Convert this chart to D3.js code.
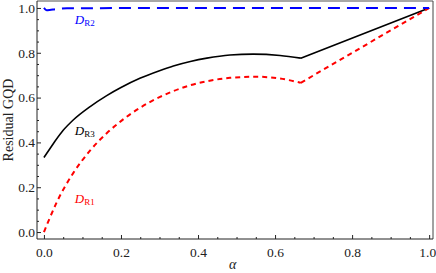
<!DOCTYPE html>
<html>
<head>
<meta charset="utf-8">
<script src="https://cdn.jsdelivr.net/npm/d3@7"></script>
<style>
  body { margin: 0; background: #fff; }
  svg text { font-family: "Liberation Serif", "DejaVu Serif", serif !important; }
</style>
</head>
<body>
<div id="chart"></div>
<script>
// D_R3 (black solid)
let alphaR3 = [0, 0.0286, 0.05, 0.076, 0.12, 0.163, 0.2, 0.249, 0.3, 0.336, 0.38, 0.423, 0.483, 0.543, 0.613, 0.6667, 1];
let valuesR3 = [0.333, 0.405, 0.454, 0.5, 0.56, 0.609, 0.645, 0.686, 0.72, 0.741, 0.761, 0.776, 0.79, 0.794, 0.788, 0.776, 1.0];

// D_R1 (red dashed)
let alphaR1 = [0, 0.012, 0.033, 0.076, 0.119, 0.163, 0.2, 0.249, 0.3, 0.336, 0.38, 0.423, 0.483, 0.552, 0.613, 0.6667, 1];
let valuesR1 = [0, 0.05, 0.132, 0.263, 0.362, 0.441, 0.495, 0.554, 0.602, 0.629, 0.655, 0.673, 0.688, 0.693, 0.685, 0.666, 1.0];

// D_R2 (blue dashed)
let alphaR2 = [0, 0.007, 0.015, 0.03, 0.06, 1];
let valuesR2 = [1.0, 0.99, 0.991, 0.995, 0.999, 1.0];

// corners where the curves are not smooth
let kinks = [0.0286, 0.6667];

let xTicks = [0, 0.2, 0.4, 0.6, 0.8, 1.0];
let yTicks = [0, 0.2, 0.4, 0.6, 0.8, 1.0];

let draw = () => {
  let width = 436;
  let height = 273;

  let svg = d3
    .select("#chart")
    .append("svg")
    .attr("width", width)
    .attr("height", height);

  let xScale = d3.scaleLinear().domain([-0.018, 1.01]).range([37, 433]);
  let yScale = d3.scaleLinear().domain([-0.031, 1.031]).range([239, 1]);

  let [x0, x1] = xScale.range();
  let [y0, y1] = yScale.range();

  // frame
  svg.append("line").attr("x1", x0).attr("x2", x1).attr("y1", y1).attr("y2", y1)
    .attr("stroke", "#8a8a8a").attr("stroke-width", 1.5);
  svg.append("line").attr("x1", x1).attr("x2", x1).attr("y1", y1).attr("y2", y0)
    .attr("stroke", "#444").attr("stroke-width", 1);
  svg.append("line").attr("x1", x0).attr("x2", x1).attr("y1", y0).attr("y2", y0)
    .attr("stroke", "#222").attr("stroke-width", 1);
  svg.append("line").attr("x1", x0).attr("x2", x0).attr("y1", y1).attr("y2", y0)
    .attr("stroke", "#222").attr("stroke-width", 1);

  // ticks (inward) with minor ticks
  let minorX = d3.range(0, 1.001, 0.05).filter((d) => Math.abs(d * 5 - Math.round(d * 5)) > 1e-6);
  let minorY = minorX.slice();

  let styleTicks = (g) => {
    g.select(".domain").remove();
    g.attr("font-family", null);
    g.selectAll("line").attr("stroke", "#222");
    g.selectAll("text").attr("font-size", 13.5).attr("fill", "#222");
  };

  svg.append("g")
    .attr("transform", `translate(0, ${y0})`)
    .call(d3.axisTop(xScale).tickValues(xTicks).tickSize(4).tickFormat(""))
    .call(styleTicks);
  svg.append("g")
    .attr("transform", `translate(0, ${y0})`)
    .call(d3.axisTop(xScale).tickValues(minorX).tickSize(2).tickFormat(""))
    .call(styleTicks);
  svg.append("g")
    .attr("transform", `translate(0, ${y0})`)
    .call(d3.axisBottom(xScale).tickValues(xTicks).tickSize(0).tickPadding(8).tickFormat(d3.format(".1f")))
    .call(styleTicks)
    // last label would run off the right edge: keep it inside
    .call((g) => g.selectAll("text").filter((d) => d === 1).attr("text-anchor", "end").attr("dx", 6.5));

  svg.append("g")
    .attr("transform", `translate(${x0}, 0)`)
    .call(d3.axisRight(yScale).tickValues(yTicks).tickSize(4).tickFormat(""))
    .call(styleTicks);
  svg.append("g")
    .attr("transform", `translate(${x0}, 0)`)
    .call(d3.axisRight(yScale).tickValues(minorY).tickSize(2).tickFormat(""))
    .call(styleTicks);
  svg.append("g")
    .attr("transform", `translate(${x0}, 0)`)
    .call(d3.axisLeft(yScale).tickValues(yTicks).tickSize(0).tickPadding(2).tickFormat(d3.format(".1f")))
    .call(styleTicks);

  // axis titles
  svg.append("text")
    .attr("x", xScale(0.49))
    .attr("y", 269)
    .attr("text-anchor", "middle")
    .attr("font-size", 14)
    .attr("font-style", "italic")
    .attr("fill", "#222")
    .text("α");
  svg.append("text")
    .attr("transform", `translate(13, ${yScale(0.5)}) rotate(-90)`)
    .attr("text-anchor", "middle")
    .attr("font-size", 14)
    .attr("fill", "#222")
    .text("Residual GQD");

  // split a series at the kinks and draw each piece smoothly
  let pieces = (alphas, values) => {
    let pts = alphas.map((a, i) => ({ a: a, v: values[i] }));
    let out = [];
    let cur = [];
    pts.forEach((p) => {
      cur.push(p);
      if (kinks.some((k) => Math.abs(k - p.a) < 1e-4)) {
        out.push(cur);
        cur = [p];
      }
    });
    if (cur.length > 1) out.push(cur);
    return out;
  };

  let line = d3
    .line()
    .x((d) => xScale(d.a))
    .y((d) => yScale(d.v))
    .curve(d3.curveMonotoneX);

  let series = [
    { alphas: alphaR3, values: valuesR3, color: "#000", width: 1.6, dash: null },
    { alphas: alphaR1, values: valuesR1, color: "#ff0000", width: 2, dash: "5,4" },
    { alphas: alphaR2, values: valuesR2, color: "#0000ff", width: 2, dash: "12,7" },
  ];

  series.forEach((s) => {
    let path = pieces(s.alphas, s.values)
      .map((p) => line(p))
      .join("");
    svg.append("path")
      .attr("d", path)
      .attr("fill", "none")
      .attr("stroke", s.color)
      .attr("stroke-width", s.width)
      .attr("stroke-dasharray", s.dash);
  });

  // curve labels
  let labels = [
    { name: "R2", a: 0.08, v: 0.93, color: "#0000ff" },
    { name: "R3", a: 0.08, v: 0.433, color: "#000" },
    { name: "R1", a: 0.08, v: 0.13, color: "#ff0000" },
  ];
  labels.forEach((l) => {
    let t = svg.append("text")
      .attr("x", xScale(l.a))
      .attr("y", yScale(l.v))
      .attr("fill", l.color)
      .attr("font-size", 13);
    t.append("tspan").attr("font-style", "italic").text("D");
    t.append("tspan").attr("font-size", 9).attr("dy", 2).text(l.name);
  });
};

draw();
</script>
</body>
</html>
